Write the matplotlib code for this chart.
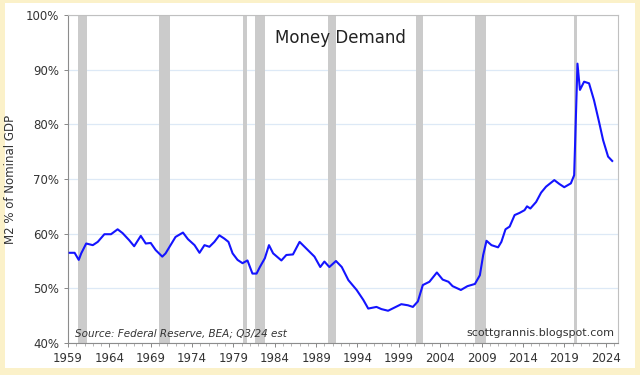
"""
Money Demand: M2 as a percent of nominal GDP, 1959-2024
(values read off the scottgrannis.blogspot.com chart)
"""

import matplotlib.pyplot as plt
from matplotlib.patches import Rectangle
from matplotlib.ticker import FuncFormatter, MultipleLocator

# traced series: decimal year, M2 % of nominal GDP
years = [1959.2, 1959.8, 1960.3, 1960.6, 1961.2, 1962.0, 1962.6, 1963.4, 1964.2,
         1965.0, 1965.6, 1966.4, 1967.0, 1967.8, 1968.4, 1969.0, 1969.6, 1970.4,
         1970.8, 1971.4, 1972.0, 1972.9, 1973.5, 1974.3, 1974.9, 1975.5, 1976.1,
         1976.7, 1977.3, 1977.9, 1978.4, 1978.9, 1979.5, 1980.1, 1980.7, 1981.3,
         1981.8, 1982.2, 1982.8, 1983.3, 1983.8, 1984.8, 1985.4, 1986.2, 1987.0,
         1987.6, 1988.2, 1988.8, 1989.5, 1990.0, 1990.6, 1991.4, 1992.1, 1992.9,
         1993.9, 1994.7, 1995.3, 1996.3, 1996.9, 1997.7, 1998.5, 1999.3, 2000.1,
         2000.7, 2001.3, 2001.9, 2002.7, 2003.6, 2004.3, 2005.0, 2005.5, 2006.5,
         2007.3, 2008.2, 2008.8, 2009.2, 2009.6, 2010.2, 2011.0, 2011.4, 2011.9,
         2012.4, 2013.0, 2013.6, 2014.2, 2014.5, 2014.9, 2015.6, 2016.2, 2016.8,
         2017.8, 2018.4, 2019.0, 2019.8, 2020.2, 2020.6, 2020.9, 2021.4, 2022.0,
         2022.6, 2023.2, 2023.7, 2024.3, 2024.8]
m2_gdp = [56.5, 56.5, 55.2, 56.4, 58.2, 57.9, 58.5, 59.9, 59.9,
          60.8, 60.1, 58.8, 57.7, 59.6, 58.2, 58.3, 57.0, 55.8,
          56.4, 57.9, 59.4, 60.2, 59.0, 57.9, 56.5, 57.9, 57.6,
          58.5, 59.7, 59.1, 58.5, 56.4, 55.2, 54.6, 55.1, 52.7,
          52.7, 53.9, 55.5, 57.9, 56.4, 55.1, 56.1, 56.2, 58.5,
          57.6, 56.7, 55.8, 53.9, 54.9, 53.9, 55.0, 53.9, 51.5,
          49.7, 47.9, 46.3, 46.6, 46.2, 45.9, 46.5, 47.1, 46.9,
          46.6, 47.6, 50.6, 51.2, 52.9, 51.6, 51.2, 50.4, 49.7,
          50.4, 50.8, 52.4, 56.1, 58.7, 57.9, 57.5, 58.5, 60.8,
          61.3, 63.4, 63.8, 64.3, 65.0, 64.6, 65.8, 67.5, 68.6,
          69.8, 69.1, 68.5, 69.2, 70.7, 91.1, 86.3, 87.8, 87.5,
          84.4, 80.5, 77.1, 74.1, 73.3]

# recession shading as drawn on the chart
rec_start = [1960.2, 1970.0, 1980.1, 1981.6, 1990.4, 2001.1, 2008.2, 2020.2]
rec_end = [1961.3, 1971.3, 1980.6, 1982.8, 1991.4, 2001.9, 2009.6, 2020.6]

xticks = list(range(1959, 2025, 5))

fig = plt.figure(figsize=(6.4, 3.75), dpi=100)
fig.patch.set_facecolor('#fbf1c9')
fig.patches.append(Rectangle((5 / 640, 1 - 368 / 375), 630 / 640, 365 / 375,
                             transform=fig.transFigure, facecolor='white',
                             edgecolor='none', zorder=-10))

ax = fig.add_axes([68 / 640, 1 - 343 / 375, 550 / 640, 328 / 375])
ax.set_facecolor('white')

for s, e in zip(rec_start, rec_end):
    ax.axvspan(s, e, color='#cbcbcb', lw=0, zorder=1)

ax.plot(years, m2_gdp, color='#1414ff', lw=1.5, zorder=3)

ax.set_xlim(1959, 2025.5)
ax.set_ylim(40, 100)
ax.set_xticks(xticks)
ax.xaxis.set_minor_locator(MultipleLocator(1))
ax.yaxis.set_major_locator(MultipleLocator(10))
ax.yaxis.set_major_formatter(FuncFormatter(lambda v, p: f'{v:.0f}%'))
ax.grid(axis='y', color='#dde9f6', lw=0.9, zorder=0)
ax.set_axisbelow(True)

ax.tick_params(axis='both', labelsize=8.5, colors='#888888', labelcolor='#333333',
               length=3, width=0.7)
ax.tick_params(axis='x', which='minor', length=2, width=0.5, colors='#999999')
for side in ['left', 'bottom']:
    ax.spines[side].set_color('#8c8c8c')
for side in ['top', 'right']:
    ax.spines[side].set_color('#c0c0c0')

ax.set_ylabel('M2 % of Nominal GDP', fontsize=8.5, color='#333333', labelpad=6)

ax.text(0.495, 0.93, 'Money Demand', transform=ax.transAxes, fontsize=12,
        color='#222222', ha='center', va='center', zorder=4)
ax.text(0.012, 0.03, 'Source: Federal Reserve, BEA; Q3/24 est', transform=ax.transAxes,
        fontsize=7.5, style='italic', color='#333333', ha='left', va='center', zorder=4)
ax.text(0.993, 0.03, 'scottgrannis.blogspot.com', transform=ax.transAxes,
        fontsize=8, color='#333333', ha='right', va='center', zorder=4)

plt.savefig('out.png', dpi=100, facecolor=fig.get_facecolor())
